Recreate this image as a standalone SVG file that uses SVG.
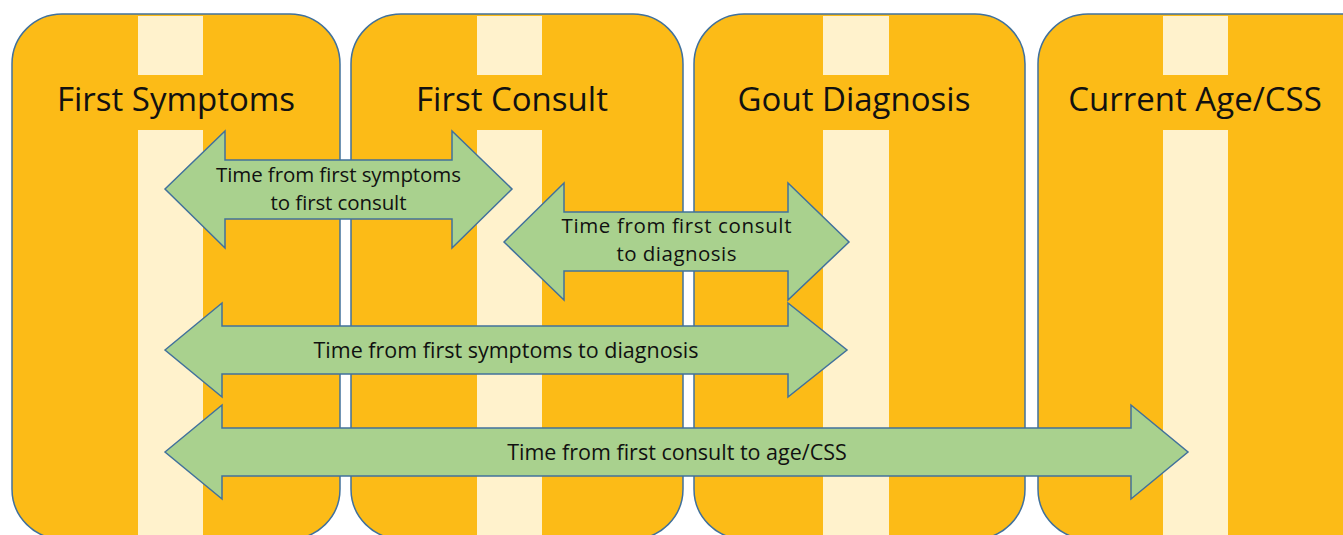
<svg xmlns="http://www.w3.org/2000/svg" width="1343" height="535" viewBox="0 0 1343 535">
<style>
.box{fill:#FCBB17;stroke:#41719C;stroke-width:1.5}
.stripe{fill:#FFF2CC}
.title{font-family:"Open Sans","Liberation Sans",sans-serif;font-size:33px;fill:#111;text-anchor:middle}
.arrow{fill:#A9D18E;stroke:#41719C;stroke-width:1.5;stroke-linejoin:miter}
.lbl{font-family:"Open Sans","Liberation Sans",sans-serif;font-size:21.5px;fill:#111;text-anchor:middle}
.lbl2{font-size:20.5px}
</style>
<rect width="1343" height="535" fill="#fff"/>
<g id="node-first-symptoms">
<rect class="box" x="12" y="14" width="328" height="525" rx="50" ry="50"/>
<rect class="stripe" x="138" y="16" width="65" height="59"/>
<rect class="stripe" x="138" y="130" width="65" height="410"/>
<text class="title" x="176" y="111">First Symptoms</text>
</g>
<g id="node-first-consult">
<rect class="box" x="351" y="14" width="332" height="525" rx="50" ry="50"/>
<rect class="stripe" x="477" y="16" width="65" height="59"/>
<rect class="stripe" x="477" y="130" width="65" height="410"/>
<text class="title" x="512" y="111">First Consult</text>
</g>
<g id="node-gout-diagnosis">
<rect class="box" x="694" y="14" width="331" height="525" rx="50" ry="50"/>
<rect class="stripe" x="823" y="16" width="66" height="59"/>
<rect class="stripe" x="823" y="130" width="66" height="410"/>
<text class="title" x="854" y="111">Gout Diagnosis</text>
</g>
<g id="node-current-age">
<rect class="box" x="1038" y="14" width="360" height="525" rx="50" ry="50"/>
<rect class="stripe" x="1163" y="16" width="65" height="59"/>
<rect class="stripe" x="1163" y="130" width="65" height="410"/>
<text class="title" x="1195" y="111">Current Age/CSS</text>
</g>
<g id="connectors">
<g id="arrow-symptoms-consult">
<polygon class="arrow" points="165,189 225,131 225,160 452,160 452,131 512,189 452,248 452,219 225,219 225,248"/>
<text class="lbl lbl2" x="338.5" y="182" textLength="245" lengthAdjust="spacing">Time from first symptoms</text>
<text class="lbl lbl2" x="338.5" y="210" textLength="136" lengthAdjust="spacing">to first consult</text>
</g>
<g id="arrow-consult-diagnosis">
<polygon class="arrow" points="504,242 564,183 564,212 788,212 788,183 849,242 788,300 788,271 564,271 564,300"/>
<text class="lbl lbl2" x="676.5" y="233" textLength="230" lengthAdjust="spacing">Time from first consult</text>
<text class="lbl lbl2" x="676.5" y="261" textLength="120" lengthAdjust="spacing">to diagnosis</text>
</g>
<g id="arrow-symptoms-diagnosis">
<polygon class="arrow" points="165,350 222,303 222,326 788,326 788,303 847,350 788,397 788,374 222,374 222,397"/>
<text class="lbl" x="506" y="358">Time from first symptoms to diagnosis</text>
</g>
<g id="arrow-consult-age">
<polygon class="arrow" points="165,452 222,405 222,428 1131,428 1131,405 1188,452 1131,499 1131,476 222,476 222,499"/>
<text class="lbl" x="677" y="460">Time from first consult to age/CSS</text>
</g>
</g>
</svg>
